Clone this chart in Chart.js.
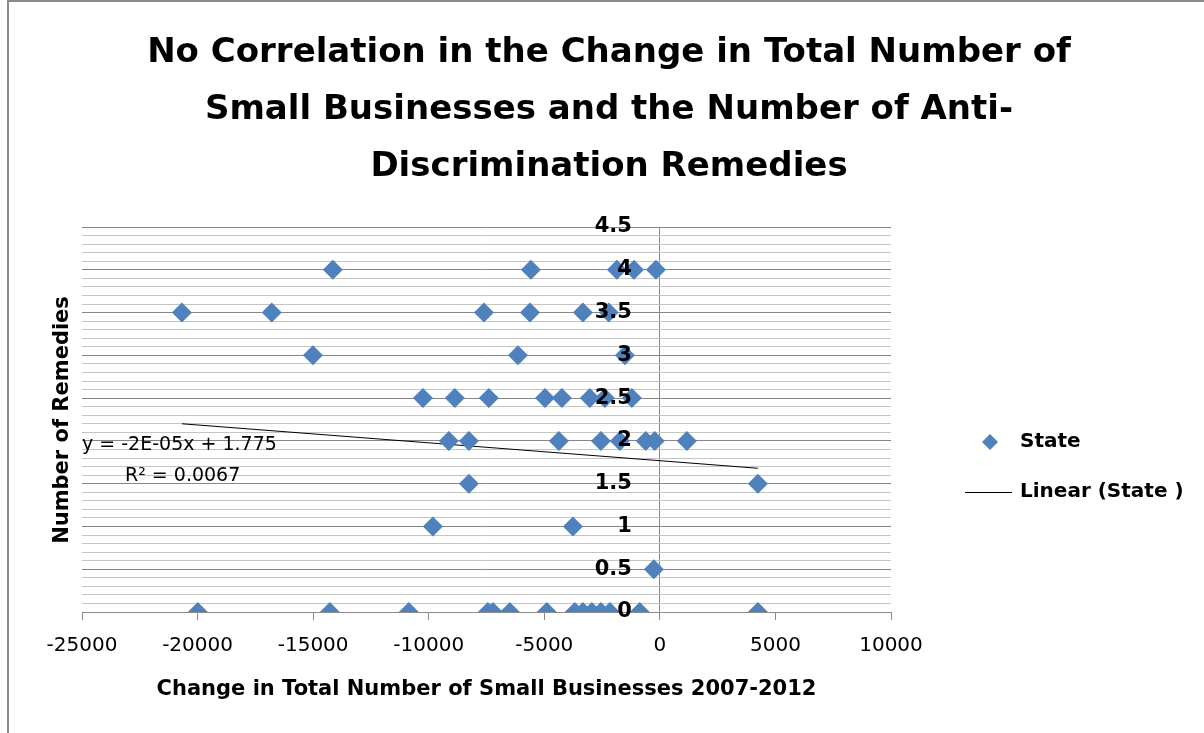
<!DOCTYPE html>
<html>
<head>
<meta charset="utf-8">
<script src="https://cdn.jsdelivr.net/npm/chart.js@4.4.1/dist/chart.umd.min.js"></script>
<style>
  body { margin: 0; background: #ffffff; }
  canvas { display: block; }
</style>
</head>
<body>
<canvas id="scatterChart" width="1204" height="733"></canvas>
<script>
// valori: variazione piccole imprese (x) e numero di rimedi (y)
const changeBusinesses = [
  -14150, -5580, -1860, -1120, -170,
  -20680, -16790, -7610, -5620, -3330, -2210,
  -15010, -6140, -1510,
  -10250, -8870, -7400, -4970, -4240, -3030, -2380, -1210,
  -9130, -8260, -4370, -2550, -1730, -610, -220, 1170,
  -8260, 4240,
  -9820, -3760,
  -260,
  -19990, -14280, -10860, -7440, -7220, -6490, -4890, -3680, -3330, -2940, -2550, -2160, -870, 4240
];
const numRemedies = [
  4, 4, 4, 4, 4,
  3.5, 3.5, 3.5, 3.5, 3.5, 3.5,
  3, 3, 3,
  2.5, 2.5, 2.5, 2.5, 2.5, 2.5, 2.5, 2.5,
  2, 2, 2, 2, 2, 2, 2, 2,
  1.5, 1.5,
  1, 1,
  0.5,
  0, 0, 0, 0, 0, 0, 0, 0, 0, 0, 0, 0, 0, 0
];

// estremi della retta di tendenza come appare nel grafico
const trendX = [-20680, 4240];
const trendY = [2.20, 1.68];

const yTickLabels = ["0", "0.5", "1", "1.5", "2", "2.5", "3", "3.5", "4", "4.5"];
const yTickValues = [0, 0.5, 1, 1.5, 2, 2.5, 3, 3.5, 4, 4.5];

const titleLines = [
  "No Correlation in the Change in Total Number of",
  "Small Businesses and the Number of Anti-",
  "Discrimination Remedies"
];
const xAxisTitle = "Change in Total Number of Small Businesses 2007-2012";
const yAxisTitle = "Number of Remedies";
const equationLines = ["y = -2E-05x + 1.775", "R\u00B2 = 0.0067"];
const legendLabels = ["State", "Linear (State )"];

const blu = "#4f81bd";
const fontName = "'DejaVu Sans', sans-serif";

const puntiStati = changeBusinesses.map((x, i) => ({ x: x, y: numRemedies[i] }));
const puntiTrend = trendX.map((x, i) => ({ x: x, y: trendY[i] }));

function isMajor(v) {
  return Math.abs(v * 2 - Math.round(v * 2)) < 1e-6;
}

// testi, etichette asse y, legenda e cornice
const decorazioni = {
  id: "decorazioni",
  beforeDraw(chart) {
    const ctx = chart.ctx;
    ctx.save();
    ctx.fillStyle = "#ffffff";
    ctx.fillRect(0, 0, chart.width, chart.height);
    ctx.restore();
  },
  afterDraw(chart) {
    const ctx = chart.ctx;
    const xs = chart.scales.x;
    const ys = chart.scales.y;
    const area = chart.chartArea;

    ctx.save();

    // cornice
    ctx.fillStyle = "#8a8a8a";
    ctx.fillRect(7, 0, 2, chart.height);
    ctx.fillRect(7, 0, chart.width - 7, 2);

    // titolo
    ctx.fillStyle = "#000000";
    ctx.textAlign = "center";
    ctx.textBaseline = "middle";
    ctx.font = "bold 34px " + fontName;
    titleLines.forEach((riga, i) => {
      ctx.fillText(riga, 609, 53 + i * 57);
    });

    // etichette asse y accanto all'asse verticale in x = 0
    const x0 = xs.getPixelForValue(0);
    ctx.font = "bold 21px " + fontName;
    ctx.textAlign = "right";
    yTickValues.forEach((v, i) => {
      ctx.fillText(yTickLabels[i], x0 - 28, ys.getPixelForValue(v));
    });

    // titoli degli assi
    ctx.font = "bold 21px " + fontName;
    ctx.textAlign = "center";
    ctx.fillText(xAxisTitle, (area.left + area.right) / 2, 690);

    ctx.save();
    ctx.translate(63, 420);
    ctx.rotate(-Math.PI / 2);
    ctx.fillText(yAxisTitle, 0, 0);
    ctx.restore();

    // equazione della retta
    ctx.font = "19px " + fontName;
    ctx.textAlign = "left";
    ctx.fillText(equationLines[0], 82, 445);
    ctx.fillText(equationLines[1], 125, 476);

    // legenda
    ctx.fillStyle = blu;
    ctx.beginPath();
    ctx.moveTo(990, 434);
    ctx.lineTo(998, 442);
    ctx.lineTo(990, 450);
    ctx.lineTo(982, 442);
    ctx.closePath();
    ctx.fill();

    ctx.strokeStyle = "#000000";
    ctx.lineWidth = 1;
    ctx.beginPath();
    ctx.moveTo(965, 492.5);
    ctx.lineTo(1012, 492.5);
    ctx.stroke();

    ctx.fillStyle = "#000000";
    ctx.font = "bold 20px " + fontName;
    ctx.fillText(legendLabels[0], 1020, 442);
    ctx.fillText(legendLabels[1], 1020, 492);

    ctx.restore();
  }
};

const ctx = document.getElementById("scatterChart").getContext("2d");

new Chart(ctx, {
  type: "scatter",
  data: {
    datasets: [
      {
        label: "State",
        data: puntiStati,
        pointStyle: "rectRot",
        pointRadius: 10,
        pointHoverRadius: 10,
        backgroundColor: blu,
        borderColor: blu,
        borderWidth: 0
      },
      {
        label: "Linear (State )",
        data: puntiTrend,
        type: "line",
        showLine: true,
        borderColor: "#000000",
        borderWidth: 1,
        pointRadius: 0,
        fill: false
      }
    ]
  },
  options: {
    responsive: false,
    animation: false,
    events: [],
    layout: {
      padding: { left: 82, right: 313, top: 227, bottom: 61 }
    },
    plugins: {
      legend: { display: false },
      title: { display: false },
      tooltip: { enabled: false }
    },
    scales: {
      x: {
        type: "linear",
        min: -25000,
        max: 10000,
        ticks: {
          stepSize: 5000,
          color: "#000000",
          padding: 14,
          font: { family: fontName, size: 20 },
          callback: v => String(v)
        },
        grid: {
          color: c => (c.tick && c.tick.value === 0 ? "#8a8a8a" : "rgba(0,0,0,0)"),
          tickColor: "#8a8a8a",
          tickLength: 8,
          lineWidth: 1
        },
        border: { display: true, color: "#8a8a8a", width: 1 }
      },
      y: {
        type: "linear",
        min: 0,
        max: 4.5,
        ticks: {
          display: false,
          stepSize: 0.1,
          maxTicksLimit: 100
        },
        grid: {
          drawTicks: false,
          color: c => (isMajor(c.tick.value) ? "#868686" : "#c4c4c4"),
          lineWidth: 1
        },
        border: { display: false }
      }
    }
  },
  plugins: [decorazioni]
});
</script>
</body>
</html>
